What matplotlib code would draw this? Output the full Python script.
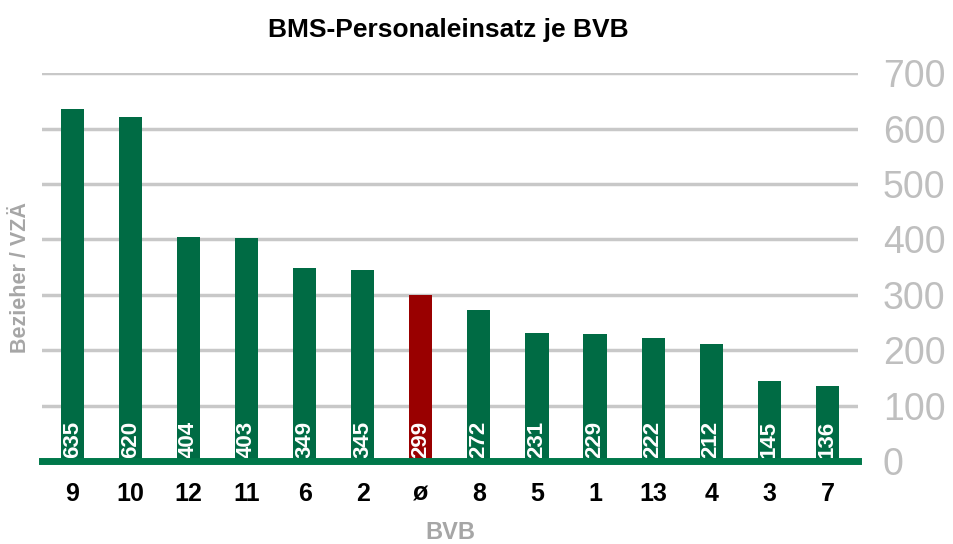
import matplotlib
matplotlib.use("Agg")
import matplotlib.pyplot as plt
from matplotlib import font_manager

categories = ["9", "10", "12", "11", "6", "2", "ø", "8", "5", "1", "13", "4", "3", "7"]
values = [635, 620, 404, 403, 349, 345, 299, 272, 231, 229, 222, 212, 145, 136]
yticks = [0, 100, 200, 300, 400, 500, 600, 700]

green = "#006B44"
red = "#990000"
gray = "#BFBFBF"

names = {f.name for f in font_manager.fontManager.ttflist}
narrow = "Liberation Sans Narrow" if "Liberation Sans Narrow" in names else "Liberation Sans"
plt.rcParams["font.family"] = [narrow, "DejaVu Sans"]

fig = plt.figure(figsize=(9.54, 5.44), dpi=100)
ax = fig.add_axes([0.044, 0.1526, 0.855, 0.713])

colors = [red if c == "ø" else green for c in categories]
x = list(range(len(categories)))
ax.bar(x, values, width=0.4, color=colors, zorder=3)

for xi, v in zip(x, values):
    ax.text(xi, 5, str(v), rotation=90, ha="center", va="bottom",
            color="white", fontsize=16, fontweight="bold", zorder=4)

ax.set_xlim(-0.52, 13.52)
ax.set_ylim(0, 700)
ax.set_yticks(yticks)
ax.yaxis.tick_right()
ax.tick_params(axis="y", length=0, pad=18, labelsize=27, labelcolor=gray)
ax.set_xticks(x)
ax.set_xticklabels(categories, fontsize=18, fontweight="bold")
ax.tick_params(axis="x", length=0, pad=15)
ax.grid(axis="y", color="#C8C8C8", linewidth=2.5, zorder=0)

for s in ["top", "right", "left"]:
    ax.spines[s].set_visible(False)
ax.spines["bottom"].set_color("#00784A")
ax.spines["bottom"].set_linewidth(5)
ax.spines["bottom"].set_zorder(5)

fig.text(0.47, 0.945, "BMS-Personaleinsatz je BVB", ha="center", va="center",
         fontsize=19, fontweight="bold")
fig.text(0.022, 0.49, "Bezieher / VZÄ", rotation=90, ha="center", va="center",
         fontsize=15.5, fontweight="bold", color="#A6A6A6")
fig.text(0.472, 0.022, "BVB", ha="center", va="center",
         fontsize=17, fontweight="bold", color="#A6A6A6")

fig.savefig("out.png", dpi=100)
